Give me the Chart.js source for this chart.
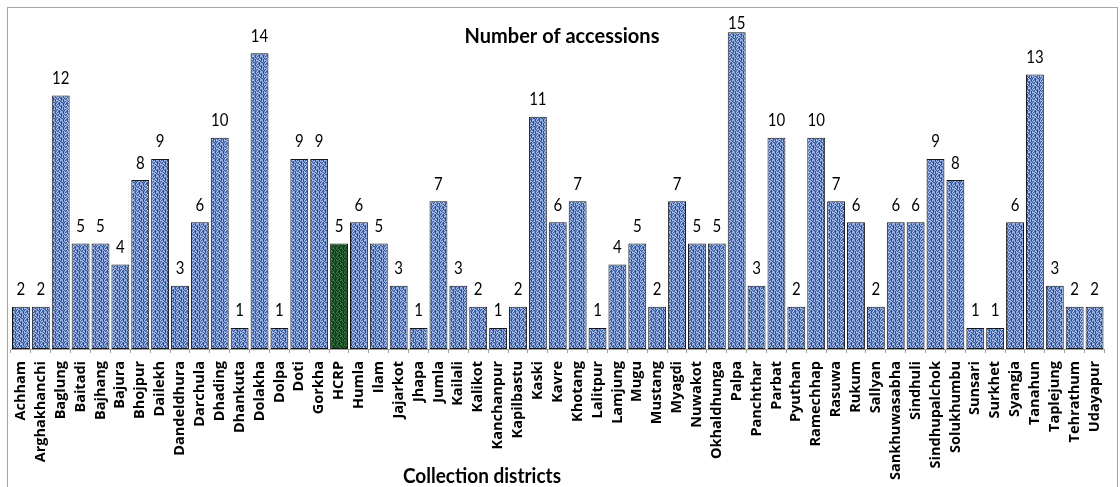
<!DOCTYPE html>
<html>
<head>
<meta charset="utf-8">
<script src="https://cdn.jsdelivr.net/npm/chart.js@4/dist/chart.umd.min.js"></script>
<style>
  html, body { margin: 0; padding: 0; background: #ffffff; overflow: hidden; }
  #wrap { position: relative; width: 1120px; height: 487px; }
  #frame { position: absolute; left: 7px; top: 7px; width: 1109px; height: 520px;
           border: 1px solid #a6a6a6; pointer-events: none; }
  canvas { position: absolute; left: 0; top: 0; }
</style>
</head>
<body>
<div id="wrap">
  <canvas id="chart" width="1120" height="487"></canvas>
  <div id="frame"></div>
</div>
<script>
// Collection districts and the number of accessions from each
const districts = [
  "Achham", "Arghakhanchi", "Baglung", "Baitadi", "Bajhang", "Bajura", "Bhojpur",
  "Dailekh", "Dandeldhura", "Darchula", "Dhading", "Dhankuta", "Dolakha", "Dolpa",
  "Doti", "Gorkha", "HCRP", "Humla", "Ilam", "Jajarkot", "Jhapa", "Jumla", "Kailali",
  "Kalikot", "Kanchanpur", "Kapilbastu", "Kaski", "Kavre", "Khotang", "Lalitpur",
  "Lamjung", "Mugu", "Mustang", "Myagdi", "Nuwakot", "Okhaldhunga", "Palpa",
  "Panchthar", "Parbat", "Pyuthan", "Ramechhap", "Rasuwa", "Rukum", "Sallyan",
  "Sankhuwasabha", "Sindhuli", "Sindhupalchok", "Solukhumbu", "Sunsari", "Surkhet",
  "Syangja", "Tanahun", "Taplejung", "Tehrathum", "Udayapur"
];
const accessions = [
  2, 2, 12, 5, 5, 4, 8,
  9, 3, 6, 10, 1, 14, 1,
  9, 9, 5, 6, 5, 3, 1, 7, 3,
  2, 1, 2, 11, 6, 7, 1,
  4, 5, 2, 7, 5, 5, 15,
  3, 10, 2, 10, 7, 6, 2,
  6, 6, 9, 8, 1, 1,
  6, 13, 3, 2, 2
];
const highlighted = ["HCRP"];
const chartTitle = "Number of accessions";
const axisTitle = "Collection districts";

// Woven texture tiles for the bar fills
function makeWeave(colors) {
  const rows = [
    "LDMDLLMD",
    "MLLDMDLD",
    "DMDLDDML",
    "LDMLLDMD",
    "LLMDMDLD",
    "MDLLDMLD",
    "DLMDLDDM",
    "MLDDMLMD"
  ];
  const c = document.createElement("canvas");
  c.width = 8; c.height = 8;
  const g = c.getContext("2d");
  rows.forEach((row, y) => {
    for (let x = 0; x < row.length; x++) {
      g.fillStyle = colors[row[x]];
      g.fillRect(x, y, 1, 1);
    }
  });
  return g.createPattern(c, "repeat");
}
const bluePattern = makeWeave({ L: "#aac1ea", M: "#7392cf", D: "#34528f" });
const greenPattern = makeWeave({ L: "#3a7843", M: "#1f5629", D: "#0e3517" });

const TEXT_FONT = "Lato, 'Open Sans', sans-serif";
const TICK_FONT = "'Open Sans', Lato, sans-serif";

// Draws text slightly stretched vertically, in the style of the original chart
function tallText(ctx, text, x, y, stretch) {
  ctx.save();
  ctx.translate(x, y);
  ctx.scale(1, stretch);
  ctx.fillText(text, 0, 0);
  ctx.restore();
}

// Value labels above bars, the heading inside the plot and the axis title
const annotate = {
  id: "annotate",
  afterDatasetsDraw(chart) {
    const ctx = chart.ctx;
    const meta = chart.getDatasetMeta(0);
    ctx.save();
    ctx.fillStyle = "#000000";
    ctx.textAlign = "center";
    ctx.textBaseline = "middle";
    ctx.font = "15px " + TEXT_FONT;
    meta.data.forEach((bar, i) => {
      const y = Math.max(bar.y - 17, 23);
      tallText(ctx, String(chart.data.datasets[0].data[i]), bar.x, y, 1.15);
    });
    ctx.font = "bold 20px " + TEXT_FONT;
    ctx.textBaseline = "alphabetic";
    tallText(ctx, chartTitle, 562, 43, 1.08);
    ctx.font = "bold 19px " + TEXT_FONT;
    tallText(ctx, axisTitle, 482, 483, 1.1);
    ctx.restore();
  }
};

new Chart(document.getElementById("chart"), {
  type: "bar",
  data: {
    labels: districts,
    datasets: [{
      data: accessions,
      backgroundColor: districts.map(d => highlighted.includes(d) ? greenPattern : bluePattern),
      borderColor: "#151515",
      borderWidth: 1,
      borderSkipped: false,
      barPercentage: 0.9,
      categoryPercentage: 1.0
    }]
  },
  options: {
    responsive: false,
    animation: false,
    devicePixelRatio: 1,
    layout: { padding: { left: 11, right: 4, top: 11, bottom: 0 } },
    plugins: {
      legend: { display: false },
      tooltip: { enabled: false },
      title: { display: false }
    },
    scales: {
      x: {
        offset: true,
        grid: {
          offset: true,
          drawOnChartArea: false,
          drawTicks: true,
          tickLength: 4,
          color: "#a0a0a0"
        },
        border: { display: true, color: "#a0a0a0", width: 1 },
        ticks: {
          autoSkip: false,
          minRotation: 90,
          maxRotation: 90,
          padding: 8,
          color: "#000000",
          font: { family: TICK_FONT, size: 14.5, weight: "bold" }
        },
        afterFit(scale) { scale.height = 138; }
      },
      y: {
        display: false,
        min: 0,
        max: 16
      }
    }
  },
  plugins: [annotate]
});
</script>
</body>
</html>
